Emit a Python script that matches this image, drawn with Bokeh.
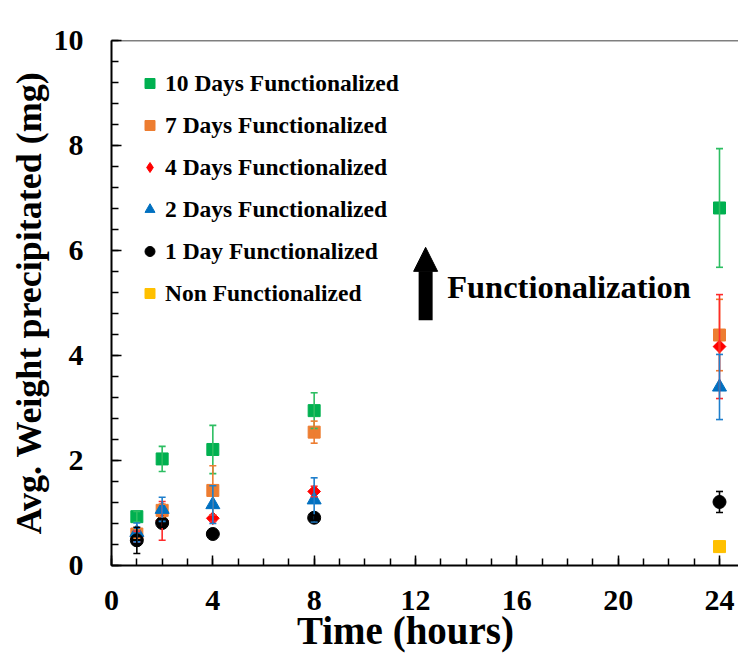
import math
from bokeh.plotting import figure
from bokeh.models import (ColumnDataSource, Whisker, TeeHead, Range1d, SingleIntervalTicker,
                          Legend, LegendItem, Label, Arrow, NormalHead, Span)
from bokeh.embed import file_html
from bokeh.resources import INLINE

# ---------------- data ----------------
times = [1, 2, 4, 8, 24]
days10 = [0.93, 2.03, 2.21, 2.95, 6.81]
err10 = [0.10, 0.24, 0.46, 0.34, 1.13]
days7 = [0.60, 1.05, 1.43, 2.54, 4.39]
err7 = [0.08, 0.12, 0.47, 0.21, 0.68]
days4 = [0.55, 0.85, 0.90, 1.41, 4.17]
err4 = [0.10, 0.37, 0.06, 0.10, 0.99]
days2 = [0.63, 1.07, 1.16, 1.25, 3.40]
err2 = [0.18, 0.23, 0.36, 0.42, 0.62]
day1 = [0.48, 0.81, 0.60, 0.91, 1.21]
err1 = [0.25, 0.08, 0.05, 0.05, 0.20]
non_times = [24]
non_func = [0.36]
non_err = [0.10]

series_names = ["10 Days Functionalized", "7 Days Functionalized", "4 Days Functionalized",
                "2 Days Functionalized", "1 Day Functionalized", "Non Functionalized"]

FONT = "Liberation Serif"

p = figure(width=738, height=655, output_backend="svg", toolbar_location=None,
           x_range=Range1d(0, 24.75), y_range=Range1d(0, 10),
           min_border_left=111, min_border_right=0, min_border_top=40, min_border_bottom=90)
p.outline_line_color = None
p.xgrid.visible = False
p.ygrid.visible = False
p.background_fill_color = "white"
p.border_fill_color = "white"

def make_source(xs, ys, es):
    return ColumnDataSource(dict(x=xs, y=ys,
                                 upper=[a + b for a, b in zip(ys, es)],
                                 lower=[a - b for a, b in zip(ys, es)]))

def add_series(src, color, err_color, marker, size, angle=0.0):
    w = Whisker(source=src, base="x", upper="upper", lower="lower", dimension="height",
                line_color=err_color, line_width=1.6,
                upper_head=TeeHead(size=7, line_color=err_color, line_width=1.6),
                lower_head=TeeHead(size=7, line_color=err_color, line_width=1.6),
                level="glyph")
    p.add_layout(w)
    return p.scatter("x", "y", source=src, marker=marker, size=size, angle=angle,
                     fill_color=color, line_color=color)

src_non = make_source(non_times, non_func, non_err)
src10 = make_source(times, days10, err10)
src7 = make_source(times, days7, err7)
src4 = make_source(times, days4, err4)
src2 = make_source(times, days2, err2)
src1 = make_source(times, day1, err1)

r_non = add_series(src_non, "#FFC000", "#FFC000", "square", 12)
r10 = add_series(src10, "#00B050", "#2DBE62", "square", 12)
r7 = add_series(src7, "#ED7D31", "#ED7D31", "square", 12)
# legend swatch for the diamond series (legend ignores marker rotation); hidden under the real markers
r4_key = p.scatter("x", "y", source=src4, marker="diamond", size=1,
                   fill_color="#FF0000", line_color="#FF0000")
r4 = add_series(src4, "#FF0000", "#FF2A2A", "square", 9, angle=math.pi / 4)
r2 = add_series(src2, "#0070C0", "#1F7FCC", "triangle", 14)
r1 = add_series(src1, "#000000", "#000000", "circle", 13)

legend = Legend(items=[LegendItem(label=series_names[0], renderers=[r10]),
                       LegendItem(label=series_names[1], renderers=[r7]),
                       LegendItem(label=series_names[2], renderers=[r4_key]),
                       LegendItem(label=series_names[3], renderers=[r2]),
                       LegendItem(label=series_names[4], renderers=[r1]),
                       LegendItem(label=series_names[5], renderers=[r_non])],
                location=(26, 258), orientation="vertical",
                glyph_width=25, glyph_height=28, label_height=28, spacing=14,
                label_standoff=3, padding=0, margin=0,
                border_line_color=None, background_fill_alpha=0,
                label_text_font=FONT, label_text_font_style="bold",
                label_text_font_size="23.5px", label_text_color="black")
p.add_layout(legend)

# top border of plot box
p.add_layout(Span(location=10, dimension="width", line_color="black", line_width=1.5))

# arrow + annotation
p.add_layout(Arrow(x_start=12.4, y_start=4.67, x_end=12.4, y_end=6.06,
                   line_color="black", line_width=14, line_cap="butt",
                   end=NormalHead(size=24, fill_color="black", line_color="black")))
p.add_layout(Label(x=13.25, y=5.31, text="Functionalization", text_font=FONT,
                   text_font_style="bold", text_font_size="32.5px", text_color="black",
                   text_baseline="middle", text_align="left"))

# axes
p.xaxis.ticker = SingleIntervalTicker(interval=4, num_minor_ticks=4)
p.yaxis.ticker = SingleIntervalTicker(interval=2, num_minor_ticks=5)
for ax in (p.xaxis[0], p.yaxis[0]):
    ax.axis_line_color = "black"
    ax.axis_line_width = 2
    ax.major_tick_in = 10
    ax.major_tick_out = 0
    ax.minor_tick_in = 7
    ax.minor_tick_out = 0
    ax.major_tick_line_width = 1.5
    ax.minor_tick_line_width = 1.5
    ax.major_tick_line_color = "black"
    ax.minor_tick_line_color = "black"
    ax.major_label_text_font = FONT
    ax.major_label_text_font_style = "bold"
    ax.major_label_text_font_size = "30px"
    ax.major_label_text_color = "black"
    ax.axis_label_text_font = FONT
    ax.axis_label_text_font_style = "bold"
    ax.axis_label_text_color = "black"
p.xaxis.major_label_standoff = 25
p.yaxis.major_label_standoff = 28
p.yaxis.axis_label = "Avg. Weight precipitated (mg)"
p.yaxis.axis_label_text_font_size = "36px"
p.yaxis.axis_label_standoff = 2
p.xaxis.axis_label = "Time (hours)" + "\u00a0" * 4
p.xaxis.axis_label_text_font_size = "39px"
p.xaxis.axis_label_standoff = -4

open("out.html", "w").write(file_html(p, INLINE))
